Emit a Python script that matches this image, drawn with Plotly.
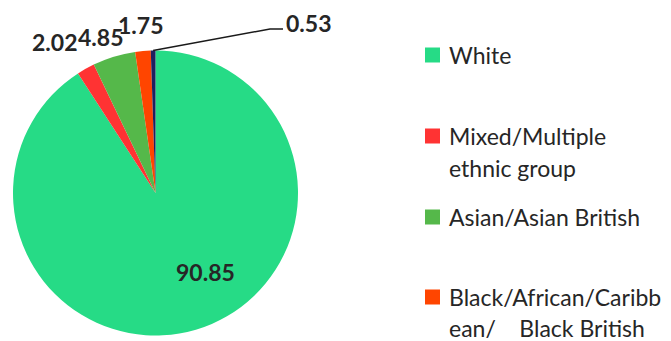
import math
import plotly.graph_objects as go

# Ethnic group breakdown (%)
groups = ["White", "Mixed/Multiple ethnic group", "Asian/Asian British",
          "Black/African/Caribbean/ Black British", "Other ethnic group"]
shares = [90.85, 2.02, 4.85, 1.75, 0.53]
colors = ["#26DB86", "#FF3333", "#55B84A", "#FF4500", "#1F2060"]

# Legend text, wrapped as in the chart
legend_lines = [["White"],
                ["Mixed/Multiple", "ethnic group"],
                ["Asian/Asian British"],
                ["Black/African/Caribb", "ean/\u00a0\u00a0\u00a0\u00a0Black British"]]

W, H = 671, 341
FONT = "Lato"
TXT = "#262626"

# pie placement in pixels
cx, cy, r = 155.5, 193.0, 142.5

fig = go.Figure(go.Pie(
    labels=groups, values=shares, sort=False, direction="clockwise", rotation=0,
    marker=dict(colors=colors, line=dict(width=0)),
    textinfo="none", hoverinfo="label+value", showlegend=False,
    domain=dict(x=[(cx - r) / W, (cx + r) / W], y=[(H - cy - r) / H, (H - cy + r) / H]),
))

def px(x, y):
    return x / W, 1 - y / H

annotations = []
# value labels
label_pos = [(205, 272), (54, 42), (100, 37), (140, 25), (308, 23)]
for v, (lx, ly) in zip(shares, label_pos):
    ax, ay = px(lx, ly)
    annotations.append(dict(x=ax, y=ay, xref="paper", yref="paper", text=f"<b>{v:.2f}</b>",
                            showarrow=False, xanchor="center", yanchor="middle",
                            font=dict(family=FONT, size=23, color=TXT)))

# leader line for the smallest slice, from its mid-angle on the rim
cum = sum(shares[:-1]) + shares[-1] / 2
ang = cum / sum(shares) * 2 * math.pi
sx, sy = cx + r * math.sin(ang), cy - r * math.cos(ang)
p0, p1, p2 = px(sx, sy), px(270, 29), px(283, 29)
shapes = [dict(type="path", xref="paper", yref="paper",
               path=f"M {p0[0]},{p0[1]} L {p1[0]},{p1[1]} L {p2[0]},{p2[1]}",
               line=dict(color="#1a1a1a", width=1.5))]

# manual legend
entry_y = [[55], [136, 168], [217], [297, 328]]
for col, lines, ys in zip(colors, legend_lines, entry_y):
    x0, y0 = px(425, ys[0] - 7.5)
    x1, y1 = px(440, ys[0] + 7.5)
    shapes.append(dict(type="rect", xref="paper", yref="paper", x0=x0, x1=x1, y0=y1, y1=y0,
                       fillcolor=col, line=dict(width=0)))
    for t, yy in zip(lines, ys):
        ax, ay = px(447, yy)
        annotations.append(dict(x=ax, y=ay, xref="paper", yref="paper", text=t,
                                showarrow=False, xanchor="left", yanchor="middle",
                                font=dict(family=FONT, size=23, color=TXT)))

fig.update_layout(width=W, height=H, margin=dict(l=0, r=0, t=0, b=0),
                  paper_bgcolor="white", plot_bgcolor="white",
                  annotations=annotations, shapes=shapes)

fig.write_html("out.html")
